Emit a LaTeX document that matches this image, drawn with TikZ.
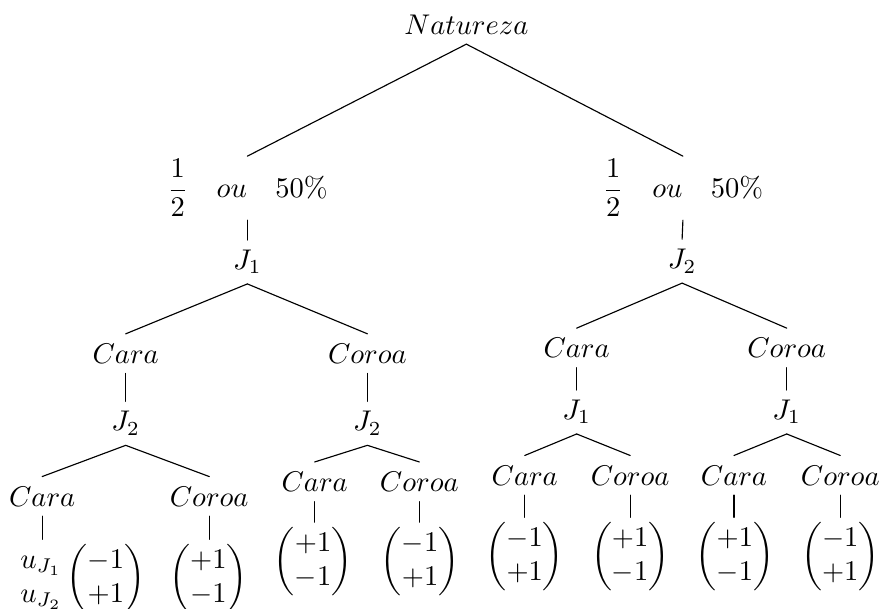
\documentclass[tikz,border=0pt]{standalone}
\usepackage{amsmath}
\usepackage{tikz}

\begin{document}
\begin{tikzpicture}[line cap=round,line join=round,
    prob/.style={inner sep=1pt},
    pag/.style={inner ysep=1.5pt}]

  \useasboundingbox (0,0) rectangle (10.85,-7.50);

  %-------------------------
  % Raiz: Natureza
  %-------------------------
  \node (nat) at (5.75,-0.30) {$Natureza$};

  %-------------------------
  % Probabilidades
  %-------------------------
  \node[prob] (probE) at (3.05,-2.32) {$\dfrac{1}{2} \quad ou \quad 50\%$};
  \node[prob] (probD) at (8.42,-2.32) {$\dfrac{1}{2} \quad ou \quad 50\%$};

  \draw (nat.south) -- (probE.north);
  \draw (nat.south) -- (probD.north);

  %-------------------------
  % Ramo esquerdo: joga J1
  %-------------------------
  \node (jA) at (3.05,-3.23) {$J_1$};
  \draw (probE.south) -- (jA.north);

  \node (caraE)  at (1.55,-4.36) {$Cara$};
  \node (coroaE) at (4.53,-4.36) {$Coroa$};
  \draw (jA.south) -- (caraE.north);
  \draw (jA.south) -- (coroaE.north);

  \node (jEa) at (1.55,-5.22) {$J_2$};
  \node (jEb) at (4.53,-5.22) {$J_2$};
  \draw (caraE.south)  -- (jEa.north);
  \draw (coroaE.south) -- (jEb.north);

  % respostas de J2
  \node (caraEE)  at (0.52,-6.12) {$Cara$};
  \node (coroaEE) at (2.58,-6.12) {$Coroa$};
  \draw (jEa.south) -- (caraEE.north);
  \draw (jEa.south) -- (coroaEE.north);

  \node (caraED)  at (3.88,-5.94) {$Cara$};
  \node (coroaED) at (5.17,-5.94) {$Coroa$};
  \draw (jEb.south) -- (caraED.north);
  \draw (jEb.south) -- (coroaED.north);

  % pagamentos
  \node[pag] (pEE) at (1.02,-7.13)
    {$\begin{matrix} u_{J_1}\\ u_{J_2} \end{matrix}\begin{pmatrix}-1\\+1\end{pmatrix}$};
  \node[pag] (pEF) at (2.57,-7.13) {$\begin{pmatrix}+1\\-1\end{pmatrix}$};
  \node[pag] (pED) at (3.86,-6.92) {$\begin{pmatrix}+1\\-1\end{pmatrix}$};
  \node[pag] (pEG) at (5.18,-6.92) {$\begin{pmatrix}-1\\+1\end{pmatrix}$};

  \draw (caraEE.south)  -- (caraEE.south |- pEE.north);
  \draw (coroaEE.south) -- (coroaEE.south |- pEF.north);
  \draw (caraED.south)  -- (caraED.south |- pED.north);
  \draw (coroaED.south) -- (coroaED.south |- pEG.north);

  %-------------------------
  % Ramo direito: joga J2
  %-------------------------
  \node (jB) at (8.41,-3.22) {$J_2$};
  \draw (probD.south) -- (jB.north);

  \node (caraD)  at (7.11,-4.29) {$Cara$};
  \node (coroaD) at (9.70,-4.29) {$Coroa$};
  \draw (jB.south) -- (caraD.north);
  \draw (jB.south) -- (coroaD.north);

  \node (jDa) at (7.11,-5.08) {$J_1$};
  \node (jDb) at (9.70,-5.08) {$J_1$};
  \draw (caraD.south)  -- (jDa.north);
  \draw (coroaD.south) -- (jDb.north);

  % respostas de J1
  \node (caraDE)  at (6.47,-5.86) {$Cara$};
  \node (coroaDE) at (7.77,-5.86) {$Coroa$};
  \draw (jDa.south) -- (caraDE.north);
  \draw (jDa.south) -- (coroaDE.north);

  \node (caraDD)  at (9.05,-5.86) {$Cara$};
  \node (coroaDD) at (10.36,-5.86) {$Coroa$};
  \draw (jDb.south) -- (caraDD.north);
  \draw (jDb.south) -- (coroaDD.north);

  % pagamentos
  \node[pag] (pDE) at (6.47,-6.86)  {$\begin{pmatrix}-1\\+1\end{pmatrix}$};
  \node[pag] (pDF) at (7.77,-6.86)  {$\begin{pmatrix}+1\\-1\end{pmatrix}$};
  \node[pag] (pDD) at (9.06,-6.86)  {$\begin{pmatrix}+1\\-1\end{pmatrix}$};
  \node[pag] (pDG) at (10.36,-6.86) {$\begin{pmatrix}-1\\+1\end{pmatrix}$};

  \draw (caraDE.south)  -- (caraDE.south |- pDE.north);
  \draw (coroaDE.south) -- (coroaDE.south |- pDF.north);
  \draw (caraDD.south)  -- (caraDD.south |- pDD.north);
  \draw (coroaDD.south) -- (coroaDD.south |- pDG.north);

\end{tikzpicture}
\end{document}
